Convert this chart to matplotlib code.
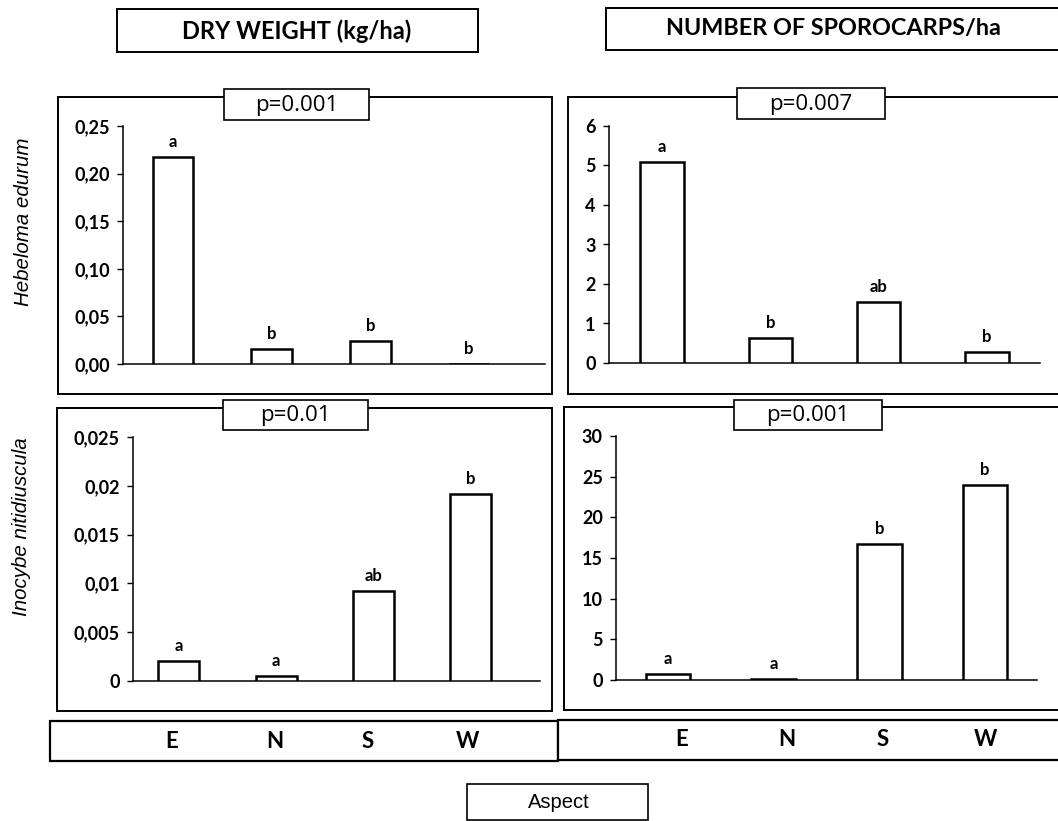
import matplotlib
matplotlib.use('Agg')
import matplotlib.pyplot as plt
from matplotlib.patches import Rectangle

# figure size in pixels
W, H = 1058, 821

aspects = ['E', 'N', 'S', 'W']

# Hebeloma edurum
dw_hebeloma = [0.217, 0.016, 0.024, 0.0]
sp_hebeloma = [5.1, 0.63, 1.55, 0.27]
dw_hebeloma_letters = ['a', 'b', 'b', 'b']
sp_hebeloma_letters = ['a', 'b', 'ab', 'b']

# Inocybe nitidiuscula
dw_inocybe = [0.0021, 0.0005, 0.0092, 0.0192]
sp_inocybe = [0.75, 0.15, 16.7, 24.0]
dw_inocybe_letters = ['a', 'a', 'ab', 'b']
sp_inocybe_letters = ['a', 'a', 'b', 'b']

p_values = ['p=0.001', 'p=0.007', 'p=0.01', 'p=0.001']

dw_hebeloma_ticks = [0, 0.05, 0.10, 0.15, 0.20, 0.25]
dw_hebeloma_ticklabels = ['0,00', '0,05', '0,10', '0,15', '0,20', '0,25']
sp_hebeloma_ticks = [0, 1, 2, 3, 4, 5, 6]
dw_inocybe_ticks = [0, 0.005, 0.01, 0.015, 0.02, 0.025]
dw_inocybe_ticklabels = ['0', '0,005', '0,01', '0,015', '0,02', '0,025']
sp_inocybe_ticks = [0, 5, 10, 15, 20, 25, 30]

BOLD = 'Lato'
PLAIN = 'Liberation Sans'


def rect(left, top, right, bottom):
	# pixel box -> figure fraction
	return [left / W, 1 - bottom / H, (right - left) / W, (bottom - top) / H]


def bar_panel(fig, pos, vals, letters, ticks, ticklabels, xlim, width):
	ax = fig.add_axes(pos)
	x = list(range(len(vals)))
	ax.bar(x, vals, width=width, color='white', edgecolor='black', linewidth=1.8, zorder=3)
	ax.set_xlim(xlim)
	ax.set_ylim(ticks[0], ticks[-1])
	ax.set_yticks(ticks)
	ax.set_yticklabels(ticklabels, fontfamily=BOLD, fontweight='bold', fontsize=13)
	ax.set_xticks([])
	ax.tick_params(axis='y', direction='out', length=4.5, width=1, pad=5)
	for s in ['top', 'right']:
		ax.spines[s].set_visible(False)
	for s in ['left', 'bottom']:
		ax.spines[s].set_linewidth(1.1)
	ax.patch.set_alpha(0)
	for xi, v, l in zip(x, vals, letters):
		ax.annotate(l, (xi, v), xytext=(0, 5), textcoords='offset points',
			ha='center', va='bottom', fontfamily=BOLD, fontweight='bold', fontsize=12)
	return ax


fig = plt.figure(figsize=(W / 100, H / 100), dpi=100)

# overlay in pixel coordinates for frames and boxed texts
ov = fig.add_axes([0, 0, 1, 1])
ov.set_xlim(0, W)
ov.set_ylim(H, 0)
ov.axis('off')

def box(x0, y0, x1, y1, lw=1.4, z=1):
	ov.add_patch(Rectangle((x0, y0), x1 - x0, y1 - y0, facecolor='white',
		edgecolor='black', linewidth=lw, zorder=z))

# panel frames
box(58, 97, 552, 394)
box(568, 97, 1064, 394)
box(57, 408, 552, 711)
box(564, 407, 1064, 710)

# title boxes
box(117, 9, 478, 52)
box(606, 8, 1064, 50)
ov.text(297, 31, 'DRY WEIGHT (kg/ha)', ha='center', va='center',
	fontfamily=BOLD, fontweight='bold', fontsize=17)
ov.text(833, 29, 'NUMBER OF SPOROCARPS/ha', ha='center', va='center',
	fontfamily=BOLD, fontweight='bold', fontsize=16.8)

# aspect boxes
box(50, 721, 558, 761, lw=1.6)
box(558, 720, 1064, 760, lw=1.6)
for cx, lab in zip([172, 275, 368, 467], aspects):
	ov.text(cx, 741, lab, ha='center', va='center', fontfamily=BOLD, fontweight='bold', fontsize=16)
for cx, lab in zip([682, 787, 883, 985], aspects):
	ov.text(cx, 740, lab, ha='center', va='center', fontfamily=BOLD, fontweight='bold', fontsize=16)

box(467, 784, 648, 820, lw=1.2)
ov.text(559, 802, 'Aspect', ha='center', va='center', fontfamily=PLAIN, fontsize=14.5)

# species labels
ov.text(24, 222, 'Hebeloma edurum', rotation=90, ha='center', va='center',
	fontfamily=PLAIN, fontstyle='italic', fontsize=14.8)
ov.text(22, 527, 'Inocybe nitidiuscula', rotation=90, ha='center', va='center',
	fontfamily=PLAIN, fontstyle='italic', fontsize=14.8)

# bar panels
bar_panel(fig, rect(123, 126, 545, 364), dw_hebeloma, dw_hebeloma_letters,
	dw_hebeloma_ticks, dw_hebeloma_ticklabels, (-0.507, 3.77), 0.415)
bar_panel(fig, rect(609, 126, 1040, 363), sp_hebeloma, sp_hebeloma_letters,
	sp_hebeloma_ticks, [str(t) for t in sp_hebeloma_ticks], (-0.49, 3.49), 0.40)
bar_panel(fig, rect(133, 437, 540, 681), dw_inocybe, dw_inocybe_letters,
	dw_inocybe_ticks, dw_inocybe_ticklabels, (-0.47, 3.71), 0.42)
bar_panel(fig, rect(616, 436, 1037, 680), sp_inocybe, sp_inocybe_letters,
	sp_inocybe_ticks, [str(t) for t in sp_inocybe_ticks], (-0.49, 3.49), 0.42)

# p-value boxes sit on top of the frames
ov2 = fig.add_axes([0, 0, 1, 1])
ov2.set_xlim(0, W)
ov2.set_ylim(H, 0)
ov2.axis('off')
for (x0, y0, x1, y1), p in zip([(224, 89, 369, 120), (737, 88, 885, 119),
		(223, 400, 368, 430), (734, 400, 882, 430)], p_values):
	ov2.add_patch(Rectangle((x0, y0), x1 - x0, y1 - y0, facecolor='white',
		edgecolor='black', linewidth=1.2))
	ov2.text((x0 + x1) / 2, (y0 + y1) / 2 + 1, p, ha='center', va='center',
		fontfamily='Open Sans', fontsize=16)

fig.savefig('out.png', dpi=100)
